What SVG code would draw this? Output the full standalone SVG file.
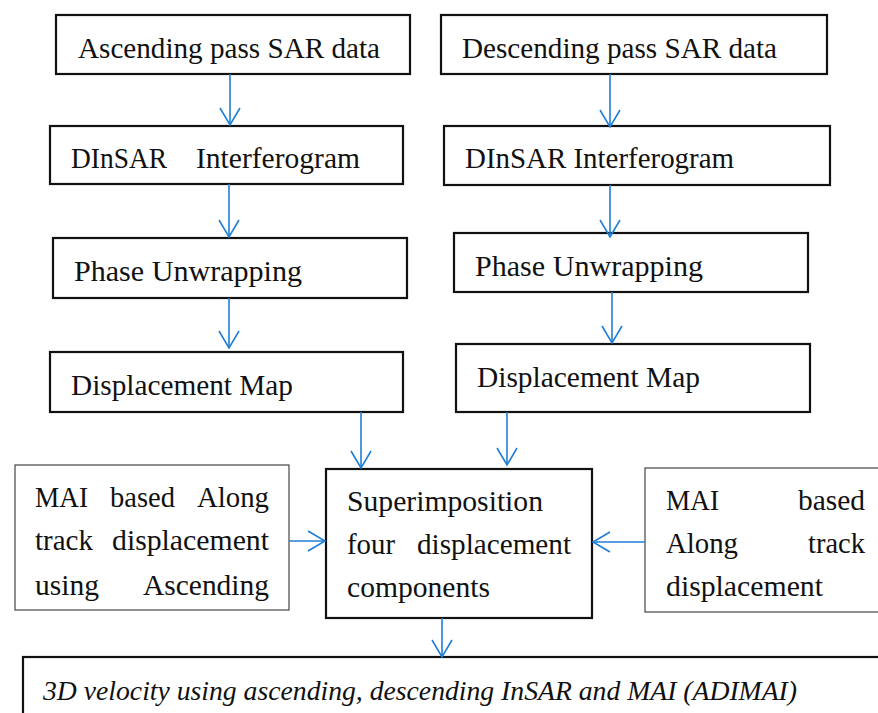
<svg xmlns="http://www.w3.org/2000/svg" width="878" height="713" viewBox="0 0 878 713">
<style>
.box{fill:#fff;stroke:#111;stroke-width:2.2}
.thin{fill:#fff;stroke:#333;stroke-width:1.1}
.t{font-size:29px;fill:#111}
.i{font-size:27px;font-style:italic;fill:#111}
.c{stroke:#1f7fd6;stroke-width:1.6;fill:none}
</style>
<defs>
<marker id="ah" markerWidth="20" markerHeight="24" viewBox="-18 -11 20 22" refX="0" refY="0" orient="auto" markerUnits="userSpaceOnUse">
<path d="M-17,-10 L0,0 L-17,10" fill="none" stroke="#1f7fd6" stroke-width="1.6"/>
</marker>
</defs>
<rect width="878" height="713" fill="#fff"/>
<g id="asc-data"><rect class="box" x="56" y="15" width="354" height="59"/><text class="t" font-family="Liberation Serif" x="78" y="58" textLength="302" lengthAdjust="spacingAndGlyphs">Ascending pass SAR data</text></g>
<g id="asc-dinsar"><rect class="box" x="50" y="126" width="353" height="58"/><text class="t" font-family="Liberation Serif" x="71" y="168" textLength="96" lengthAdjust="spacingAndGlyphs">DInSAR</text><text class="t" font-family="Liberation Serif" x="196" y="168" textLength="164" lengthAdjust="spacingAndGlyphs">Interferogram</text></g>
<g id="asc-unwrap"><rect class="box" x="53" y="238" width="354" height="60"/><text class="t" font-family="Liberation Serif" x="74" y="281" textLength="228" lengthAdjust="spacingAndGlyphs">Phase Unwrapping</text></g>
<g id="asc-disp"><rect class="box" x="50" y="352" width="353" height="60"/><text class="t" font-family="Liberation Serif" x="71" y="395" textLength="222" lengthAdjust="spacingAndGlyphs">Displacement Map</text></g>
<g id="desc-data"><rect class="box" x="441" y="15" width="386" height="59"/><text class="t" font-family="Liberation Serif" x="462" y="58" textLength="315" lengthAdjust="spacingAndGlyphs">Descending pass SAR data</text></g>
<g id="desc-dinsar"><rect class="box" x="444" y="126" width="386" height="59"/><text class="t" font-family="Liberation Serif" x="465" y="168" textLength="269" lengthAdjust="spacingAndGlyphs">DInSAR Interferogram</text></g>
<g id="desc-unwrap"><rect class="box" x="454" y="233" width="354" height="59"/><text class="t" font-family="Liberation Serif" x="475" y="276" textLength="228" lengthAdjust="spacingAndGlyphs">Phase Unwrapping</text></g>
<g id="desc-disp"><rect class="box" x="456" y="344" width="354" height="68"/><text class="t" font-family="Liberation Serif" x="477" y="387" textLength="223" lengthAdjust="spacingAndGlyphs">Displacement Map</text></g>
<g id="mai-asc"><rect class="thin" x="15" y="465" width="274" height="145"/>
<text class="t" font-family="Liberation Serif" x="35" y="507" textLength="53" lengthAdjust="spacingAndGlyphs">MAI</text><text class="t" font-family="Liberation Serif" x="110" y="507" textLength="65" lengthAdjust="spacingAndGlyphs">based</text><text class="t" font-family="Liberation Serif" x="197" y="507" textLength="72" lengthAdjust="spacingAndGlyphs">Along</text>
<text class="t" font-family="Liberation Serif" x="35" y="550" textLength="58" lengthAdjust="spacingAndGlyphs">track</text><text class="t" font-family="Liberation Serif" x="112" y="550" textLength="157" lengthAdjust="spacingAndGlyphs">displacement</text>
<text class="t" font-family="Liberation Serif" x="35" y="595" textLength="64" lengthAdjust="spacingAndGlyphs">using</text><text class="t" font-family="Liberation Serif" x="143" y="595" textLength="126" lengthAdjust="spacingAndGlyphs">Ascending</text></g>
<g id="superimpose"><rect class="box" x="326" y="469" width="266" height="149" stroke-width="2.6"/>
<text class="t" font-family="Liberation Serif" x="347" y="511" textLength="196" lengthAdjust="spacingAndGlyphs">Superimposition</text>
<text class="t" font-family="Liberation Serif" x="347" y="554" textLength="48" lengthAdjust="spacingAndGlyphs">four</text><text class="t" font-family="Liberation Serif" x="417" y="554" textLength="154" lengthAdjust="spacingAndGlyphs">displacement</text>
<text class="t" font-family="Liberation Serif" x="347" y="597" textLength="143" lengthAdjust="spacingAndGlyphs">components</text></g>
<g id="mai-desc"><rect class="thin" x="645" y="468" width="250" height="144"/>
<text class="t" font-family="Liberation Serif" x="666" y="510" textLength="53" lengthAdjust="spacingAndGlyphs">MAI</text><text class="t" font-family="Liberation Serif" x="798" y="510" textLength="67" lengthAdjust="spacingAndGlyphs">based</text>
<text class="t" font-family="Liberation Serif" x="666" y="553" textLength="72" lengthAdjust="spacingAndGlyphs">Along</text><text class="t" font-family="Liberation Serif" x="808" y="553" textLength="57" lengthAdjust="spacingAndGlyphs">track</text>
<text class="t" font-family="Liberation Serif" x="666" y="596" textLength="157" lengthAdjust="spacingAndGlyphs">displacement</text></g>
<g id="velocity"><rect class="box" x="23" y="657" width="880" height="80"/><text class="i" font-family="Liberation Serif" x="43" y="700" textLength="754" lengthAdjust="spacingAndGlyphs">3D velocity using ascending, descending InSAR and MAI (ADIMAI)</text></g>
<g id="connectors">
<line class="c" x1="230" y1="74" x2="230" y2="125" marker-end="url(#ah)"/>
<line class="c" x1="229" y1="184" x2="229" y2="237" marker-end="url(#ah)"/>
<line class="c" x1="229" y1="298" x2="229" y2="348" marker-end="url(#ah)"/>
<line class="c" x1="361" y1="412" x2="361" y2="468" marker-end="url(#ah)"/>
<line class="c" x1="610" y1="74" x2="610" y2="127" marker-end="url(#ah)"/>
<line class="c" x1="610" y1="185" x2="610" y2="237" marker-end="url(#ah)"/>
<line class="c" x1="612" y1="292" x2="612" y2="343" marker-end="url(#ah)"/>
<line class="c" x1="507" y1="412" x2="507" y2="465" marker-end="url(#ah)"/>
<line class="c" x1="289" y1="541" x2="325" y2="541" marker-end="url(#ah)"/>
<line class="c" x1="645" y1="542" x2="593" y2="542" marker-end="url(#ah)"/>
<line class="c" x1="442" y1="618" x2="442" y2="657" marker-end="url(#ah)"/>
</g>
</svg>
